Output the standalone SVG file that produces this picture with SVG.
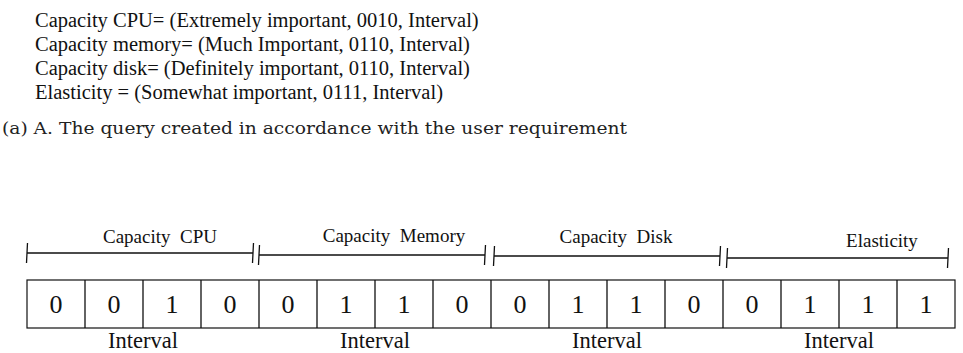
<svg xmlns="http://www.w3.org/2000/svg" width="963" height="353" viewBox="0 0 963 353">
<style>
.t{font-family:"Liberation Serif","Times New Roman",serif;fill:#111}
.q{font-size:20.5px}
.cap{font-family:"DejaVu Serif",serif;font-size:16.5px;fill:#222}
.lbl{font-size:19px;text-anchor:middle;white-space:pre}
.dig{font-size:26px;text-anchor:middle}
.iv{font-size:22.5px;text-anchor:middle}
.ln{stroke:#111;stroke-width:1.3;fill:none}
.cell{stroke:#111;stroke-width:1.2;fill:#fff}
</style>
<rect width="963" height="353" fill="#fff"/>
<g id="query">
<text class="t q" x="35" y="27">Capacity CPU= (Extremely important, 0010, Interval)</text>
<text class="t q" x="35" y="51">Capacity memory= (Much Important, 0110, Interval)</text>
<text class="t q" x="35" y="75">Capacity disk= (Definitely important, 0110, Interval)</text>
<text class="t q" x="35" y="99">Elasticity = (Somewhat important, 0111, Interval)</text>
</g>
<g id="caption">
<text class="cap" x="2" y="134" textLength="625" lengthAdjust="spacingAndGlyphs">(a) A. The query created in accordance with the user requirement</text>
</g>
<g id="connectors">
<path class="ln" d="M27 253H253M27.5 243L26.5 263M253.5 243L252.5 263"/>
<path class="ln" d="M259 255H485M259.5 245L258.5 265M485.5 245L484.5 265"/>
<path class="ln" d="M494 256H720M494.5 246L493.5 266M720.5 246L719.5 266"/>
<path class="ln" d="M727 258H948M727.5 248L726.5 268M948.5 248L947.5 268"/>
</g>
<g id="labels">
<text class="t lbl" x="160" y="243" xml:space="preserve">Capacity  CPU</text>
<text class="t lbl" x="394" y="242" xml:space="preserve">Capacity  Memory</text>
<text class="t lbl" x="616" y="243" xml:space="preserve">Capacity  Disk</text>
<text class="t lbl" x="882" y="247">Elasticity</text>
</g>
<g id="cells">
<rect class="cell" x="27" y="280" width="928" height="48"/>
<path class="ln" d="M85 280V328M143 280V328M201 280V328M259 280V328M317 280V328M375 280V328M433 280V328M491 280V328M549 280V328M607 280V328M665 280V328M723 280V328M781 280V328M839 280V328M897 280V328"/>
</g>
<g id="digits" class="t dig">
<text x="56" y="313">0</text><text x="114" y="313">0</text><text x="172" y="313">1</text><text x="230" y="313">0</text>
<text x="288" y="313">0</text><text x="346" y="313">1</text><text x="404" y="313">1</text><text x="462" y="313">0</text>
<text x="520" y="313">0</text><text x="578" y="313">1</text><text x="636" y="313">1</text><text x="694" y="313">0</text>
<text x="752" y="313">0</text><text x="810" y="313">1</text><text x="868" y="313">1</text><text x="926" y="313">1</text>
</g>
<g id="intervals" class="t iv">
<text x="143" y="348">Interval</text>
<text x="375" y="348">Interval</text>
<text x="607" y="348">Interval</text>
<text x="839" y="348">Interval</text>
</g>
</svg>
